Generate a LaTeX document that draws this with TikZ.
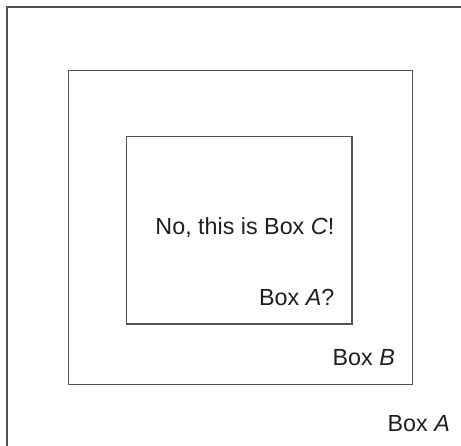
\documentclass[tikz,border=0pt]{standalone}
\usepackage{fontspec}
\setmainfont{Liberation Sans}
\begin{document}
\begin{tikzpicture}[x=1pt,y=-1pt,
  boxline/.style={draw=black!68,line width=1.2pt},
  lbl/.style={anchor=base east,inner sep=0pt,font=\fontsize{23.3}{27}\selectfont,text=black!88}]
\useasboundingbox (0,0) rectangle (461,445);
\clip (0,0) rectangle (461,445);
\fill[white] (0,0) rectangle (461,445);
\draw[boxline] (7,7) rectangle (475,460);
\draw[boxline] (68.7,70.7) rectangle (412.5,384.5);
\draw[boxline] (126.7,136.7) rectangle (352,324);
\node[lbl] (c) at (334.5,234) {No, this is Box \textit{C}!};
\node[lbl] (a2) at (334.5,305.7) {Box \textit{A}?};
\node[lbl] (b) at (395,365) {Box \textit{B}};
\node[lbl] (a) at (450,431) {Box \textit{A}};
\end{tikzpicture}
\end{document}
